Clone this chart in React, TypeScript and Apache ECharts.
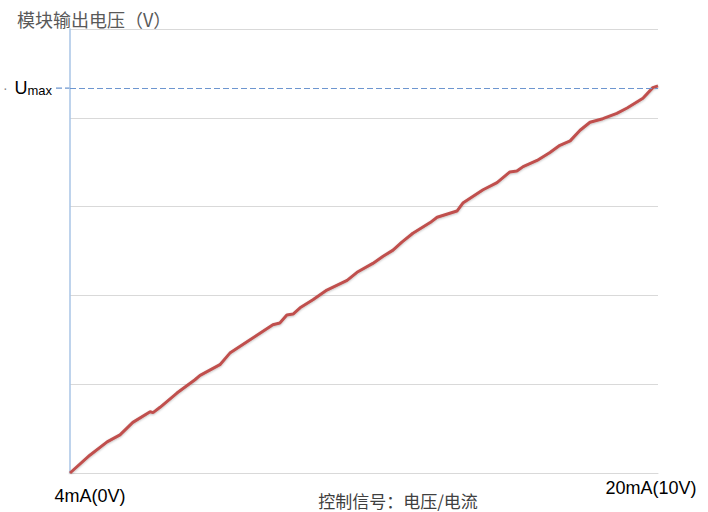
import React, { useEffect, useRef } from "react";
import * as echarts from "echarts";

// control signal (mA) and module output (grid units, 5 divisions)
const signalMA = [4.0, 4.54, 5.01, 5.36, 5.71, 6.18, 6.26, 6.45, 6.91, 7.4, 7.54, 8.08, 8.35, 8.9, 9.52, 9.71, 9.9, 10.07, 10.26, 10.61, 10.99, 11.54, 11.81, 12.24, 12.52, 12.79, 13.03, 13.33, 13.8, 13.99, 14.53, 14.69, 15.24, 15.62, 15.97, 16.16, 16.33, 16.71, 17.06, 17.33, 17.61, 17.88, 18.15, 18.5, 18.88, 19.16, 19.59, 19.86, 20.0];
const outputV = [0.0, 0.2, 0.35, 0.43, 0.57, 0.69, 0.68, 0.74, 0.9, 1.05, 1.1, 1.22, 1.35, 1.5, 1.67, 1.69, 1.78, 1.79, 1.86, 1.95, 2.06, 2.17, 2.26, 2.36, 2.44, 2.51, 2.6, 2.7, 2.82, 2.88, 2.95, 3.04, 3.19, 3.27, 3.39, 3.4, 3.45, 3.52, 3.61, 3.69, 3.74, 3.86, 3.95, 3.99, 4.05, 4.11, 4.22, 4.34, 4.36];
const UMAX = 4.335;
const xTickValues = [4, 20];
const xTickLabels = ["4mA(0V)", "20mA(10V)"];
const titleText = "模块输出电压（V）";
const xAxisName = "控制信号：电压/电流";

export default function App() {
  const ref = useRef<HTMLDivElement>(null);
  useEffect(() => {
    document.body.style.margin = "0";
    const chart = echarts.init(ref.current!, null, { renderer: "svg" });
    const font = "'Liberation Sans Narrow', 'Liberation Sans', 'Noto Sans CJK SC', sans-serif";
    chart.setOption({
      animation: false,
      title: {
        text: titleText,
        left: 12,
        top: 5,
        textStyle: { fontSize: 18, fontWeight: "normal", color: "#595959", fontFamily: "'Noto Sans CJK SC', sans-serif" },
      },
      grid: { left: 70, right: 50, top: 29, bottom: 39, containLabel: false, outerBoundsMode: "none" },
      xAxis: {
        type: "value",
        min: 4,
        max: 20,
        name: xAxisName,
        nameLocation: "middle",
        nameGap: 19,
        nameMoveOverlap: false,
        nameTextStyle: { fontSize: 17, color: "#404040", padding: [0, 0, 0, 68], fontFamily: "'Noto Sans CJK SC', sans-serif" },
        axisLine: { show: true, lineStyle: { color: "#d9d9d9" } },
        axisTick: { show: false },
        splitLine: { show: false },
        axisLabel: {
          customValues: xTickValues,
          formatter: (v: number) => (v === xTickValues[0] ? "{a|" + xTickLabels[0] + "}" : "{b|" + xTickLabels[1] + "}"),
          rich: {
            a: { fontSize: 18, color: "#000", fontFamily: font, padding: [8, 0, 0, 40] },
            b: { fontSize: 18, color: "#000", fontFamily: font, padding: [0, 0, 0, -14] },
          },
          margin: 6,
        },
      },
      yAxis: {
        type: "value",
        min: 0,
        max: 5,
        interval: 1,
        axisLine: { show: true, lineStyle: { color: "#a9c4e6", width: 1.5 } },
        axisTick: { show: false },
        axisLabel: { show: false },
        splitLine: { show: true, lineStyle: { color: "#d9d9d9", width: 1 } },
      },
      series: [
        {
          type: "line",
          data: signalMA.map((x, i) => [x, outputV[i]]),
          symbol: "none",
          lineStyle: { color: "#c0504d", width: 3, shadowBlur: 2, shadowColor: "rgba(0,0,0,0.25)", shadowOffsetY: 1 },
          markLine: {
            silent: true,
            symbol: "none",
            lineStyle: { color: "#6d96d0", type: [6, 3], width: 1.2 },
            label: {
              position: "start",
              distance: 18,
              formatter: "{d|·}  {u|U}{m|max}",
              rich: {
                d: { fontSize: 14, color: "#888", fontFamily: font },
                u: { fontSize: 18, color: "#000", fontFamily: font },
                m: { fontSize: 13, color: "#000", fontFamily: font, padding: [4, 0, 0, 0] },
              },
            },
            data: [[{ coord: [4, UMAX] }, { coord: [20, UMAX] }]],
          },
        },
      ],
    });
    const p0 = chart.convertToPixel({ xAxisIndex: 0, yAxisIndex: 0 }, [4, UMAX]);
    chart.setOption({
      graphic: [
        {
          type: "line",
          shape: { x1: p0[0] - 14, y1: p0[1], x2: p0[0], y2: p0[1] },
          style: { stroke: "#6d96d0", lineWidth: 1.2, lineDash: [6, 3] },
        },
      ],
    });
    return () => chart.dispose();
  }, []);
  return <div ref={ref} style={{ width: 708, height: 512 }} />;
}
